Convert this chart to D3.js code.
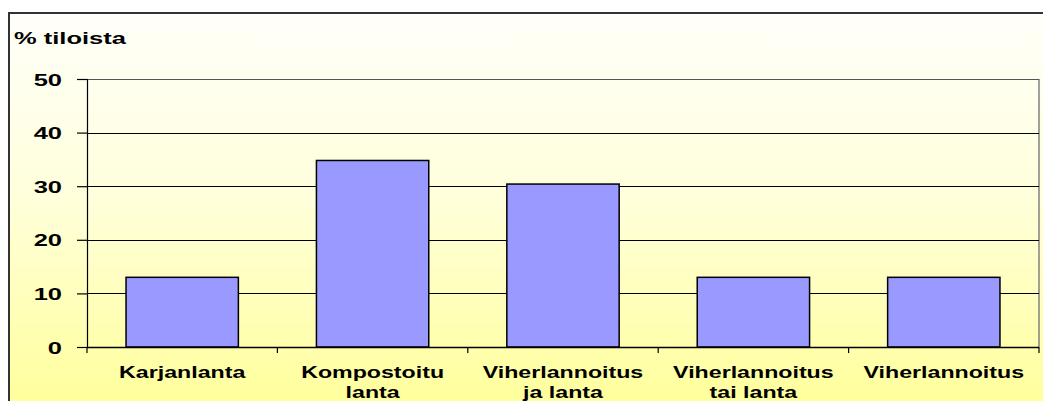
<!DOCTYPE html>
<html>
<head>
<meta charset="utf-8">
<script src="https://cdn.jsdelivr.net/npm/d3@7"></script>
<style>
  html, body { margin: 0; padding: 0; background: #ffffff; }
  svg { display: block; }
  text { font-family: "Liberation Sans", Arial, sans-serif; font-weight: bold; fill: #000; }
</style>
</head>
<body>
<svg id="chart" width="1043" height="401"></svg>
<script>
const categories = [["Karjanlanta"], ["Kompostoitu", "lanta"], ["Viherlannoitus", "ja lanta"], ["Viherlannoitus", "tai lanta"], ["Viherlannoitus"]];
const values = [13.0, 34.8, 30.4, 13.0, 13.0];
const yTicks = [0, 10, 20, 30, 40, 50];
const yTitle = "% tiloista";

const W = 1043, H = 401;
const SX = 1.5; // horizontal text stretch of the original
const plot = { left: 87, right: 1039, top: 79, bottom: 347 };

const svg = d3.select("#chart");
const defs = svg.append("defs");
const grad = defs.append("linearGradient").attr("id", "bg")
  .attr("x1", 0).attr("y1", 0).attr("x2", 0).attr("y2", 1);
grad.append("stop").attr("offset", "0%").attr("stop-color", "#fffffa");
grad.append("stop").attr("offset", "45%").attr("stop-color", "#ffffdc");
grad.append("stop").attr("offset", "100%").attr("stop-color", "#ffff99");

// chart area with frame
svg.append("rect").attr("x", 9).attr("y", 13).attr("width", W + 20).attr("height", H)
  .attr("fill", "url(#bg)").attr("stroke", "#333").attr("stroke-width", 2);

const keys = categories.map(c => c.join(" "));
const x = d3.scaleBand().domain(keys).range([plot.left, plot.right])
  .paddingInner(0.41).paddingOuter(0.205);
const y = d3.scaleLinear().domain([0, 50]).range([plot.bottom, plot.top]);

// plot area border (right side gray)
svg.append("line").attr("x1", plot.right).attr("x2", plot.right)
  .attr("y1", plot.top).attr("y2", plot.bottom).attr("stroke", "#808080").attr("stroke-width", 1.5);

// gridlines
svg.append("g").selectAll("line").data(yTicks.filter(t => t > 0)).join("line")
  .attr("x1", plot.left).attr("x2", plot.right)
  .attr("y1", d => Math.round(y(d)) + 0.5).attr("y2", d => Math.round(y(d)) + 0.5)
  .attr("stroke", d => d === 50 ? "#555" : "#000").attr("stroke-width", 1.2);

// bars
svg.append("g").selectAll("rect").data(values).join("rect")
  .attr("x", (d, i) => x(keys[i]))
  .attr("y", d => y(d))
  .attr("width", x.bandwidth())
  .attr("height", d => y(0) - y(d))
  .attr("fill", "#9999ff").attr("stroke", "#000").attr("stroke-width", 1.5);

// y axis
const yAxis = svg.append("g").attr("transform", `translate(${plot.left},0)`)
  .call(d3.axisLeft(y).tickValues(yTicks).tickSize(10).tickPadding(15).tickFormat(d3.format("d")));
yAxis.select(".domain").attr("stroke", "#000").attr("stroke-width", 1.2);
yAxis.selectAll(".tick line").attr("stroke", "#000").attr("stroke-width", 1.2);
yAxis.selectAll(".tick text").each(function () {
  const t = d3.select(this);
  t.attr("font-size", 17).attr("font-family", null).attr("dy", "0.36em")
   .attr("transform", `translate(${-25},0) scale(${SX},1) translate(${25},0)`);
});

// x axis
const xAxisG = svg.append("g");
xAxisG.append("line").attr("x1", plot.left).attr("x2", plot.right)
  .attr("y1", plot.bottom + 0.5).attr("y2", plot.bottom + 0.5).attr("stroke", "#000").attr("stroke-width", 1.5);
xAxisG.selectAll("line.tk").data(d3.range(keys.length + 1)).join("line").attr("class", "tk")
  .attr("x1", i => plot.left + i * (plot.right - plot.left) / keys.length)
  .attr("x2", i => plot.left + i * (plot.right - plot.left) / keys.length)
  .attr("y1", plot.bottom).attr("y2", plot.bottom + 6).attr("stroke", "#000").attr("stroke-width", 1.2);

const labels = xAxisG.selectAll("g.lbl").data(categories).join("g").attr("class", "lbl")
  .attr("transform", (d, i) => `translate(${x(keys[i]) + x.bandwidth() / 2},378) scale(1.45,1)`);
labels.each(function (lines) {
  const g = d3.select(this);
  lines.forEach((s, j) => {
    g.append("text").attr("x", 0).attr("y", j * 20).attr("text-anchor", "middle")
      .attr("font-size", 16).text(s);
  });
});

// y title
svg.append("text").attr("transform", `translate(14,44) scale(${SX},1)`)
  .attr("font-size", 17).text(yTitle);
</script>
</body>
</html>
